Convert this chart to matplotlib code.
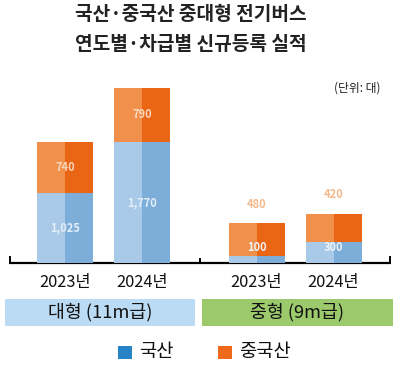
import matplotlib
matplotlib.use("Agg")
import matplotlib.pyplot as plt
from matplotlib.patches import Rectangle

plt.rcParams['font.family'] = ['Noto Sans CJK KR', 'DejaVu Sans']

# 데이터 (단위: 대)
years = ['2023년', '2024년', '2023년', '2024년']
groups = ['대형 (11m급)', '중형 (9m급)']
domestic = [1025, 1770, 100, 300]   # 국산
chinese = [740, 790, 480, 420]      # 중국산

W, H = 400, 369
fig = plt.figure(figsize=(W / 100, H / 100), dpi=100)
fig.patch.set_facecolor('white')

# 픽셀 좌표로 쓰는 배경 축
bg = fig.add_axes([0, 0, 1, 1])
bg.set_xlim(0, W)
bg.set_ylim(H, 0)
bg.axis('off')

bg.text(191, 15, '국산·중국산 중대형 전기버스', ha='center', va='center',
        fontsize=13.8, fontweight='bold', color='#222222')
bg.text(191, 45, '연도별·차급별 신규등록 실적', ha='center', va='center',
        fontsize=13.8, fontweight='bold', color='#222222')
bg.text(380, 88, '(단위: 대)', ha='right', va='center', fontsize=8.5, color='#222222')

# 막대 축
x0, x1, base, top = 10, 390, 263, 80
ax = fig.add_axes([x0 / W, (H - base) / H, (x1 - x0) / W, (base - top) / H])
ax.set_xlim(x0, x1)
ax.set_ylim(0, (base - top) * 14.6)
ax.axis('off')

centers = [65, 142, 256.5, 333.5]
bw = 56
blue_l, blue_d = '#a8cae8', '#7daed9'
org_l, org_d = '#f1904a', '#eb6614'
for i, c in enumerate(centers):
    d, ch = domestic[i], chinese[i]
    ax.bar(c - bw / 4, d, bw / 2, color=blue_l, lw=0)
    ax.bar(c + bw / 4, d, bw / 2, color=blue_d, lw=0)
    ax.bar(c - bw / 4, ch, bw / 2, bottom=d, color=org_l, lw=0)
    ax.bar(c + bw / 4, ch, bw / 2, bottom=d, color=org_d, lw=0)
    if i < 2:
        ax.text(c, d / 2, f'{d:,}', ha='center', va='center',
                fontsize=8, color='#e4eef8', fontweight='bold')
        ax.text(c, d + ch / 2, f'{ch:,}', ha='center', va='center',
                fontsize=8, color='#f8d8c0', fontweight='bold')
    else:
        ax.text(c, 220, f'{d:,}', ha='center', va='center',
                fontsize=8, color='#eef2f6', fontweight='bold')
        ax.text(c, d + ch + 280, f'{ch:,}', ha='center', va='center',
                fontsize=8, color='#f3b88c', fontweight='bold')

# 축선
bg.plot([9, 391], [base, base], color='black', lw=1.6, solid_capstyle='butt')
for xx, ln in [(9.8, 6), (200, 4), (390.2, 6)]:
    bg.plot([xx, xx], [base, base - ln], color='black', lw=1.4)

for c, y in zip(centers, years):
    bg.text(c, 283, y, ha='center', va='center', fontsize=11.8, color='#111111')

# 차급 띠
bg.add_patch(Rectangle((5, 299), 190, 27, color='#bbdaf3', lw=0))
bg.add_patch(Rectangle((202, 299), 191, 27, color='#9cc96b', lw=0))
bg.text(100, 312, groups[0], ha='center', va='center', fontsize=13.2, color='#111111')
bg.text(297.5, 312, groups[1], ha='center', va='center', fontsize=13.2, color='#111111')

# 범례
bg.add_patch(Rectangle((118, 346), 14, 13, color='#2782c6', lw=0))
bg.text(139, 352, '국산', ha='left', va='center', fontsize=13.5, color='#111111')
bg.add_patch(Rectangle((218, 346), 14, 13, color='#ee6a1a', lw=0))
bg.text(239, 352, '중국산', ha='left', va='center', fontsize=13.5, color='#111111')

fig.savefig('out.png', dpi=100)
